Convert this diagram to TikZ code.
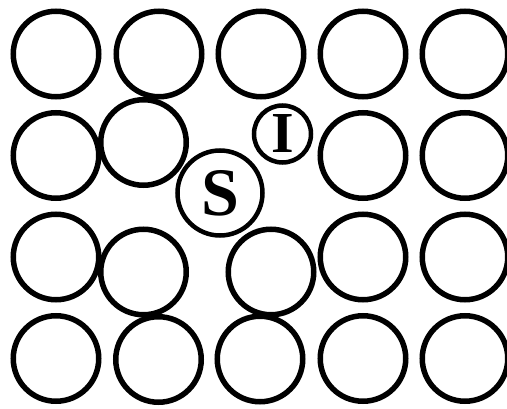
\documentclass[tikz,border=0pt]{standalone}
\usepackage{fontspec}
\setmainfont{Liberation Serif}
\begin{document}
\begin{tikzpicture}[x=1pt,y=-1pt,
  atom/.style={circle,draw=black,line width=5.5pt,minimum size=85.5pt,inner sep=0pt},
  big/.style={circle,draw=black,line width=4.5pt,minimum size=85pt,inner sep=0pt,font=\fontsize{68}{68}\selectfont\bfseries},
  small/.style={circle,draw=black,line width=4.5pt,minimum size=57pt,inner sep=0pt,font=\fontsize{58}{58}\selectfont\bfseries}]
\useasboundingbox (0,0) rectangle (507,409);
% row 1
\node[atom] (a11) at (56,54) {};
\node[atom] (a12) at (159,54) {};
\node[atom] (a13) at (261,54) {};
\node[atom] (a14) at (363,54) {};
\node[atom] (a15) at (465,54) {};
% row 2
\node[atom] (a21) at (56,155.5) {};
\node[atom] (a22) at (143.5,142.5) {};
\node[atom] (a24) at (363,155.5) {};
\node[atom] (a25) at (465,155.5) {};
% row 3
\node[atom] (a31) at (56,257) {};
\node[atom] (a32) at (143.5,272) {};
\node[atom] (a33) at (271,272) {};
\node[atom] (a34) at (363,257) {};
\node[atom] (a35) at (465,257) {};
% row 4
\node[atom] (a41) at (56,358.5) {};
\node[atom] (a42) at (158.5,359.5) {};
\node[atom] (a43) at (260,359) {};
\node[atom] (a44) at (363,358.5) {};
\node[atom] (a45) at (465,358.5) {};
% defects
\node[big] (s) at (220,193) {S};
\node[small] (i) at (282.5,134) {I};
\end{tikzpicture}
\end{document}
